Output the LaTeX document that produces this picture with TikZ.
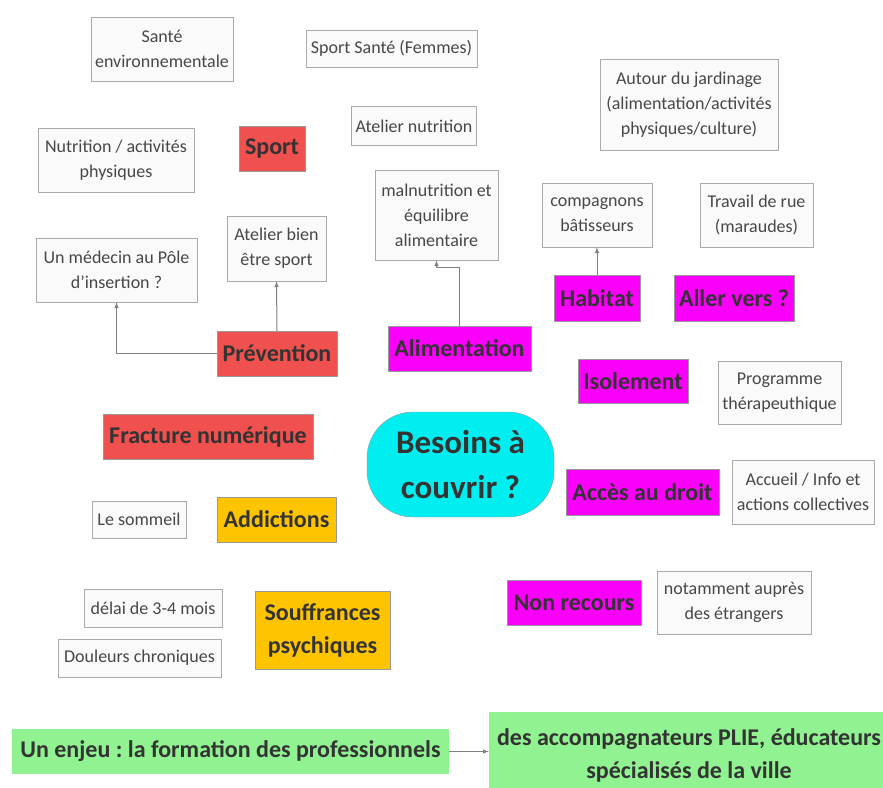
\documentclass[tikz,border=0pt]{standalone}
\usepackage{fontspec}
\setmainfont{Carlito}
\frenchspacing
\definecolor{boxline}{RGB}{170,170,170}
\definecolor{boxfill}{RGB}{250,250,250}
\definecolor{redfill}{RGB}{240,80,78}
\definecolor{pinkfill}{RGB}{250,0,250}
\definecolor{goldfill}{RGB}{255,196,0}
\definecolor{cyanfill}{RGB}{0,238,240}
\definecolor{greenfill}{RGB}{144,242,144}
\begin{document}
\begin{tikzpicture}[x=1pt,y=-1pt,>=latex,
    leaf/.style={draw=boxline, fill=boxfill, text=black!72, align=center, inner sep=0pt,
        font=\fontsize{18}{25}\selectfont},
    theme/.style={draw=gray!80, text=black!80, align=center, inner sep=0pt,
        font=\bfseries\fontsize{24}{33}\selectfont},
    redtheme/.style={theme, fill=redfill},
    pinktheme/.style={theme, fill=pinkfill},
    goldtheme/.style={theme, fill=goldfill},
    greentheme/.style={theme, fill=greenfill, draw=none},
    link/.style={->, draw=gray, line width=1pt}]
    \clip (0,0) rectangle (883,787);
    \useasboundingbox (0,0) rectangle (883,787);

    \node[leaf, minimum width=142, minimum height=64] (sante) at (162,49) {Santé\\environnementale};
    \node[leaf, minimum width=171, minimum height=37] (sportsante) at (391.5,48.5) {Sport Santé (Femmes)};
    \node[leaf, minimum width=125, minimum height=39] (ateliernut) at (414,126) {Atelier nutrition};
    \node[leaf, minimum width=156, minimum height=64] (nutri) at (116,160) {Nutrition / activités\\physiques};
    \node[redtheme, minimum width=66, minimum height=45] (sport) at (272,149) {Sport};
    \node[leaf, minimum width=123, minimum height=90] (malnut) at (436.5,215) {malnutrition et\\équilibre\\alimentaire};
    \node[leaf, minimum width=178, minimum height=91] (jardin) at (689,104.5) {Autour du jardinage\\(alimentation/activités\\physiques/culture)};
    \node[leaf, minimum width=110, minimum height=64] (compagnons) at (597,215) {compagnons\\bâtisseurs};
    \node[leaf, minimum width=113, minimum height=64] (travail) at (756.5,215) {Travail de rue\\(maraudes)};
    \node[leaf, minimum width=161, minimum height=64] (medecin) at (116.5,270) {Un médecin au Pôle\\d’insertion ?};
    \node[leaf, minimum width=99, minimum height=65] (atelierbien) at (276.5,248.5) {Atelier bien\\être sport};

    \node[redtheme, minimum width=120, minimum height=45] (prevention) at (277,353.5) {Prévention};
    \node[pinktheme, minimum width=143, minimum height=45] (alim) at (459.5,348.5) {Alimentation};
    \node[pinktheme, minimum width=86, minimum height=46] (habitat) at (597,298) {Habitat};
    \node[pinktheme, minimum width=120, minimum height=46] (aller) at (734,298) {Aller vers ?};
    \node[pinktheme, minimum width=110, minimum height=44] (isolement) at (633,381) {Isolement};
    \node[leaf, minimum width=123, minimum height=63] (programme) at (779.5,392.5) {Programme\\thérapeuthique};
    \node[redtheme, minimum width=210, minimum height=45] (fracture) at (208,436.5) {Fracture numérique};

    \node[theme, fill=cyanfill, rounded corners=46, minimum width=187, minimum height=105,
        font=\bfseries\fontsize{33}{45}\selectfont] (besoins) at (460.5,464.5) {Besoins à\\couvrir ?};

    \node[leaf, minimum width=94, minimum height=37] (sommeil) at (139,519.5) {Le sommeil};
    \node[goldtheme, minimum width=119, minimum height=45] (addictions) at (276.5,519.5) {Addictions};
    \node[leaf, minimum width=138, minimum height=38] (delai) at (153,608) {délai de 3-4 mois};
    \node[leaf, minimum width=163, minimum height=38] (douleurs) at (139.5,658) {Douleurs chroniques};
    \node[goldtheme, minimum width=135, minimum height=78] (souffrances) at (322.5,630) {Souffrances\\psychiques};
    \node[pinktheme, minimum width=153, minimum height=46] (acces) at (642.5,492) {Accès au droit};
    \node[leaf, minimum width=142, minimum height=64] (accueil) at (803,492) {Accueil / Info et\\actions collectives};
    \node[pinktheme, minimum width=134, minimum height=45] (nonrecours) at (574,602.5) {Non recours};
    \node[leaf, minimum width=154, minimum height=63] (notamment) at (734,602.5) {notamment auprès\\des étrangers};

    \node[greentheme, minimum width=437, minimum height=45] (enjeu) at (230.5,751.5) {Un enjeu : la formation des professionnels};
    \node[greentheme, minimum width=400, minimum height=86] (formation) at (689,755) {des accompagnateurs PLIE, éducateurs\\spécialisés de la ville};

    \draw[link] (prevention.west) -| (medecin.south);
    \draw[link] (prevention.north) -- (atelierbien.south);
    \draw[link] (alim.north) |- ([yshift=-7pt]malnut.south) -- (malnut.south);
    \draw[link] (habitat.north) -- (compagnons.south);
    \draw[link] (enjeu.east) -- (enjeu.east -| formation.west);
\end{tikzpicture}
\end{document}
